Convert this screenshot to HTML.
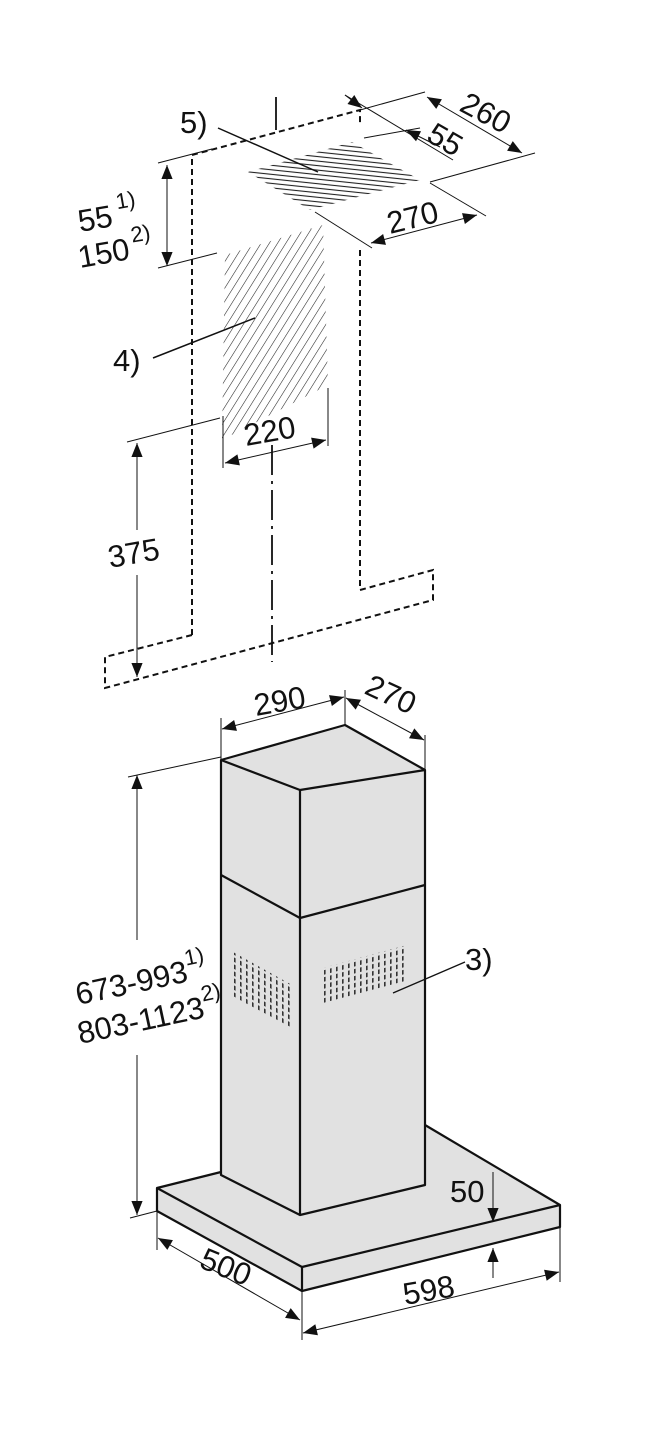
<!DOCTYPE html>
<html><head><meta charset="utf-8"><style>
html,body{margin:0;padding:0;background:#fff}
svg{display:block}
text{font-family:"Liberation Sans",sans-serif;font-size:31px;fill:#111}
</style></head><body>
<svg width="656" height="1450" viewBox="0 0 656 1450" xmlns="http://www.w3.org/2000/svg">
<defs>
<marker id="a" viewBox="0 0 10 10" refX="10" refY="5" markerWidth="20" markerHeight="14" markerUnits="userSpaceOnUse" orient="auto-start-reverse"><path d="M0,1 L10,5 L0,9z" fill="#111"/></marker>
<pattern id="h4" width="7" height="7" patternUnits="userSpaceOnUse" patternTransform="rotate(32)"><line x1="0" y1="0" x2="0" y2="7" stroke="#222" stroke-width="1.1"/></pattern>
<pattern id="h5" width="8" height="4.5" patternUnits="userSpaceOnUse" patternTransform="rotate(6)"><line x1="0" y1="1" x2="8" y2="1" stroke="#222" stroke-width="1.1"/></pattern>
<pattern id="gl" width="6" height="7" patternUnits="userSpaceOnUse" patternTransform="skewY(28)"><rect x="0" y="0" width="1.6" height="4.5" fill="#333"/></pattern>
<pattern id="gr" width="6" height="7" patternUnits="userSpaceOnUse" patternTransform="skewY(-15)"><rect x="0" y="0" width="1.6" height="4.5" fill="#333"/></pattern>
</defs>

<g fill="none" stroke="#111" stroke-width="2" stroke-dasharray="6,4">
<path d="M192,635 V155 L360,110 V125"/>
<path d="M360,250 V590 L433,570 V600 L105,688 V657 L192,635"/>
</g>
<line x1="276" y1="97" x2="276" y2="130" stroke="#111" stroke-width="1.8"/>
<line x1="272" y1="445" x2="272" y2="662" stroke="#111" stroke-width="1.8" stroke-dasharray="30,6,3,6"/>

<polygon points="225,255 323,225 328,385 222,440" fill="url(#h4)"/>
<polygon points="352,142 420,180 310,210 248,172" fill="url(#h5)"/>

<line x1="218" y1="128" x2="318" y2="172" stroke="#111" stroke-width="1.5"/>
<text x="180" y="133">5)</text>
<line x1="153" y1="358" x2="255" y2="318" stroke="#111" stroke-width="1.5"/>
<text x="113" y="371">4)</text>

<!-- chimney & base -->
<g stroke="#111" stroke-width="2.2" stroke-linejoin="round" fill="#e1e1e1">
<polygon points="157,1188 221,1172 425,1125 560,1205 560,1227 302,1291 157,1211"/>
<line x1="157" y1="1188" x2="302" y2="1267"/>
<line x1="302" y1="1267" x2="560" y2="1205"/>
<line x1="302" y1="1267" x2="302" y2="1291"/>
<polygon points="221,760 345,725 425,770 425,1185 300,1215 221,1175"/>
<polyline points="221,760 300,790 425,770" fill="none"/>
<line x1="300" y1="790" x2="300" y2="1215"/>
<polyline points="221,875 300,918 425,885" fill="none"/>
</g>
<polygon points="233,952 292,985 292,1030 233,996" fill="url(#gl)"/>
<polygon points="323,968 407,945 407,982 323,1005" fill="url(#gr)"/>
<line x1="465" y1="962" x2="393" y2="993" stroke="#111" stroke-width="1.3"/>
<text x="465" y="970">3)</text>

<g stroke="#111" stroke-width="1" fill="none">
<line x1="158" y1="163" x2="212" y2="149"/>
<line x1="158" y1="268" x2="217" y2="253"/>
<line x1="167" y1="165" x2="167" y2="266" marker-start="url(#a)" marker-end="url(#a)"/>
<line x1="360" y1="110" x2="425" y2="92"/>
<line x1="430" y1="182" x2="535" y2="153"/>
<line x1="427" y1="97" x2="522" y2="153" marker-start="url(#a)" marker-end="url(#a)"/>
<line x1="345" y1="95" x2="453" y2="160"/>
<line x1="345" y1="95" x2="362" y2="108" marker-end="url(#a)"/>
<line x1="364" y1="138" x2="420" y2="128"/>
<line x1="440" y1="147" x2="406" y2="130" marker-end="url(#a)"/>
<line x1="430" y1="183" x2="486" y2="216"/>
<line x1="315" y1="212" x2="372" y2="248"/>
<line x1="371" y1="243" x2="477" y2="215" marker-start="url(#a)" marker-end="url(#a)"/>
<line x1="223" y1="416" x2="223" y2="468"/>
<line x1="328" y1="388" x2="328" y2="446"/>
<line x1="225" y1="463" x2="326" y2="440" marker-start="url(#a)" marker-end="url(#a)"/>
<line x1="127" y1="442" x2="220" y2="418"/>
<line x1="137" y1="443" x2="137" y2="530" marker-start="url(#a)"/>
<line x1="137" y1="575" x2="137" y2="677" marker-end="url(#a)"/>
<line x1="221" y1="718" x2="221" y2="760"/>
<line x1="345" y1="690" x2="345" y2="725"/>
<line x1="425" y1="735" x2="425" y2="770"/>
<line x1="222" y1="729" x2="344" y2="697" marker-start="url(#a)" marker-end="url(#a)"/>
<line x1="346" y1="698" x2="424" y2="740" marker-start="url(#a)" marker-end="url(#a)"/>
<line x1="128" y1="777" x2="221" y2="757"/>
<line x1="130" y1="1218" x2="157" y2="1211"/>
<line x1="137" y1="775" x2="137" y2="940" marker-start="url(#a)"/>
<line x1="137" y1="1055" x2="137" y2="1215" marker-end="url(#a)"/>
<line x1="157" y1="1212" x2="157" y2="1250"/>
<line x1="302" y1="1290" x2="302" y2="1340"/>
<line x1="560" y1="1228" x2="560" y2="1282"/>
<line x1="158" y1="1238" x2="300" y2="1320" marker-start="url(#a)" marker-end="url(#a)"/>
<line x1="303" y1="1333" x2="559" y2="1272" marker-start="url(#a)" marker-end="url(#a)"/>
<line x1="493" y1="1172" x2="493" y2="1222" marker-end="url(#a)"/>
<line x1="493" y1="1278" x2="493" y2="1248" marker-end="url(#a)"/>
</g>

<text transform="translate(80,232) rotate(-10)">55<tspan font-size="22" dx="6" dy="-16">1)</tspan></text>
<text transform="translate(80,268) rotate(-10)">150<tspan font-size="22" dx="4" dy="-16">2)</tspan></text>
<text transform="translate(458,110) rotate(28)">260</text>
<text transform="translate(425,140) rotate(30)">55</text>
<text transform="translate(390,234) rotate(-14)">270</text>
<text transform="translate(246,446) rotate(-10)">220</text>
<text transform="translate(110,568) rotate(-10)">375</text>
<text transform="translate(256,716) rotate(-10)">290</text>
<text transform="translate(363,693) rotate(25)">270</text>
<text transform="translate(78,1005) rotate(-12)">673-993<tspan font-size="22" dy="-16">1)</tspan></text>
<text transform="translate(80,1044) rotate(-12)">803-1123<tspan font-size="22" dy="-16">2)</tspan></text>
<text x="450" y="1202">50</text>
<text transform="translate(198,1267) rotate(22)">500</text>
<text transform="translate(405,1305) rotate(-10)">598</text>
</svg>
</body></html>
